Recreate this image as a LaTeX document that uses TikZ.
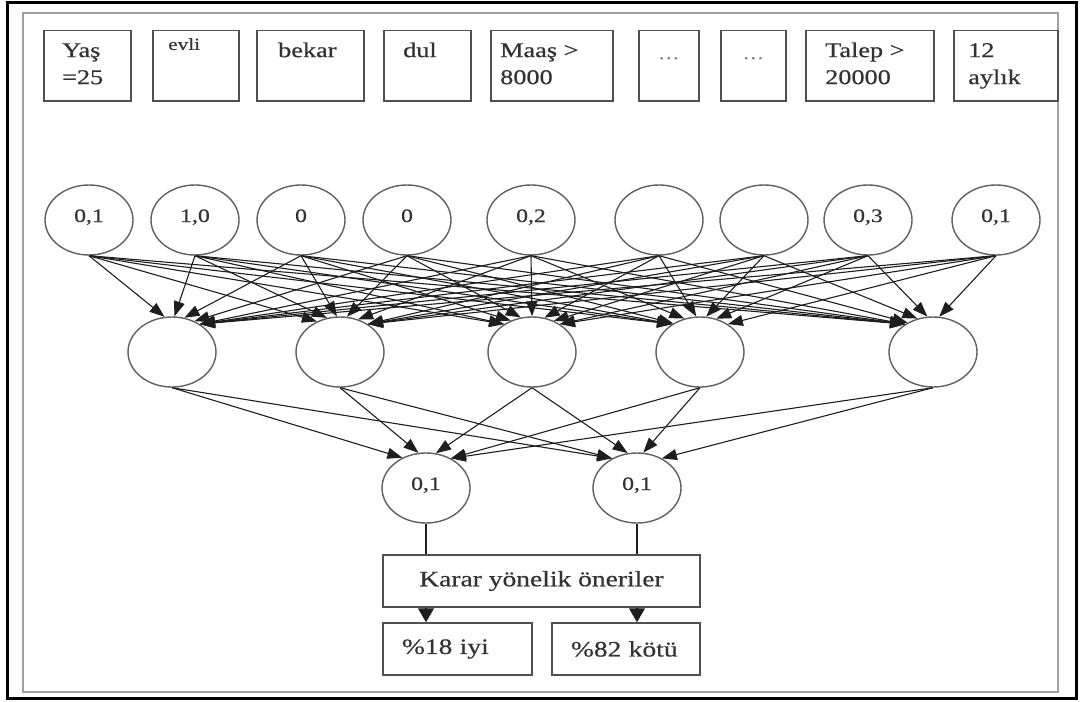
\documentclass[tikz,border=0pt]{standalone}
\usepackage{fontspec}
\setmainfont{Liberation Serif}[FakeStretch=1.25,FakeBold=0.6]
\usetikzlibrary{shapes.geometric,arrows.meta}

\definecolor{ink}{HTML}{1E1E1E}
\definecolor{textink}{HTML}{333333}
\definecolor{boxline}{HTML}{505050}
\definecolor{ringline}{HTML}{606060}
\definecolor{panelline}{HTML}{A0A0A0}
\definecolor{dotgray}{HTML}{777777}

\newcommand\fieldfont{\fontsize{21}{27}\selectfont}
\newcommand\smallfieldfont{\fontsize{17}{21}\selectfont}
\newcommand\unitfont{\fontsize{19}{23}\selectfont}
\newcommand\resultfont{\fontsize{22}{27}\selectfont}

\begin{document}
\begin{tikzpicture}[x=1pt,y=-1pt,
  field/.style={draw=boxline, line width=1.5, anchor=north west, inner sep=0, minimum height=70},
  fieldtext/.style={anchor=north west, align=left, inner sep=0, font=\fieldfont, text=textink},
  smalltext/.style={anchor=north west, align=left, inner sep=0, font=\smallfieldfont, text=textink},
  dots/.style={anchor=base, inner sep=0, font=\smallfieldfont, text=dotgray},
  unit/.style={ellipse, draw=ringline, line width=1.4, minimum width=88, minimum height=70,
    inner sep=0, font=\unitfont, text=textink, text height=13pt, text depth=9pt},
  link/.style={draw=ink, line width=1.1, -{Triangle[length=15pt,width=11pt]}},
  bigarrow/.style={draw=ink, line width=1.1, -{Triangle[length=14pt,width=16pt]}},
  plain/.style={draw=ink, line width=1.1},
  result/.style={draw=boxline, line width=1.5, inner sep=0, minimum height=52, font=\resultfont, text=textink},
]
\useasboundingbox (0,0) rectangle (1083,701);

% frames
\draw[black, line width=3] (7,3) rectangle (1076,698);
\draw[panelline, line width=2.4] (23,13) rectangle (1058,692);

% input fields
\node[field, minimum width=87]  (f1) at (43,30)  {};
\node[field, minimum width=86]  (f2) at (152,30) {};
\node[field, minimum width=107] (f3) at (256,30) {};
\node[field, minimum width=87]  (f4) at (383,30) {};
\node[field, minimum width=122] (f5) at (490,30) {};
\node[field, minimum width=60]  (f6) at (638,30) {};
\node[field, minimum width=65]  (f7) at (720,30) {};
\node[field, minimum width=128] (f8) at (805,30) {};
\node[field, minimum width=104] (f9) at (953,30) {};

\node[fieldtext] (f1t) at (62,38)  {\strut Yaş\\=25};
\node[smalltext] (f2t) at (168,35) {\strut evli};
\node[fieldtext] (f3t) at (278,38) {\strut bekar};
\node[fieldtext] (f4t) at (403,38) {\strut dul};
\node[fieldtext] (f5t) at (500,38) {\strut Maaş >\\8000};
\node[dots] (f6t) at ([yshift=-29pt]f6.north) {…};
\node[dots] (f7t) at ([yshift=-29pt]f7.north) {…};
\node[fieldtext] (f8t) at (825,38) {\strut Talep >\\20000};
\node[fieldtext] (f9t) at (968,38) {\strut 12\\aylık};

% input units
\node[unit] (i1) at (89,220)  {0,1};
\node[unit] (i2) at (195,220) {1,0};
\node[unit] (i3) at (301,220) {0};
\node[unit] (i4) at (407,220) {0};
\node[unit] (i5) at (531,220) {0,2};
\node[unit] (i6) at (659,220) {};
\node[unit] (i7) at (764,220) {};
\node[unit] (i8) at (868,220) {0,3};
\node[unit] (i9) at (996,220) {0,1};

% hidden units
\node[unit] (h1) at (172,352) {};
\node[unit] (h2) at (340,352) {};
\node[unit] (h3) at (532,352) {};
\node[unit] (h4) at (700,352) {};
\node[unit] (h5) at (933,352) {};

% output units
\node[unit] (o1) at (426,488) {0,1};
\node[unit] (o2) at (637,488) {0,1};

% decision box and results
\node[result, minimum width=317] (k) at (541.5,581) {Karar yönelik öneriler};
\node[result, minimum width=149, text width=111, inner xsep=19, align=left] (r1) at (457.5,649) {\%18 iyi};
\node[result, minimum width=148, text width=110, inner xsep=19, align=left] (r2) at (626,649) {\%82 kötü};

% input -> hidden
\foreach \a/\xa in {1/89,2/195,3/301,4/407,5/531,6/659,7/764,8/868,9/996}
  \foreach \b/\xb in {1/172,2/340,3/532,4/700,5/933}{
    \pgfmathtruncatemacro\ang{90-max(-45,min(45,0.15*(\xa-\xb)))}
    \draw[link] (i\a.south) -- (h\b.\ang);
  }

% hidden -> output
\foreach \b/\xb in {1/172,2/340,3/532,4/700,5/933}
  \foreach \c/\xc in {1/426,2/637}{
    \pgfmathtruncatemacro\ang{90-max(-40,min(40,0.15*(\xb-\xc)))}
    \draw[link] (h\b.south) -- (o\c.\ang);
  }

% output -> decision -> results
\draw[plain] (o1.south) -- (o1.south |- k.north);
\draw[plain] (o2.south) -- (o2.south |- k.north);
\draw[bigarrow] (o1 |- k.south) -- (o1 |- r1.north);
\draw[bigarrow] (o2 |- k.south) -- (o2 |- r2.north);
\end{tikzpicture}
\end{document}
